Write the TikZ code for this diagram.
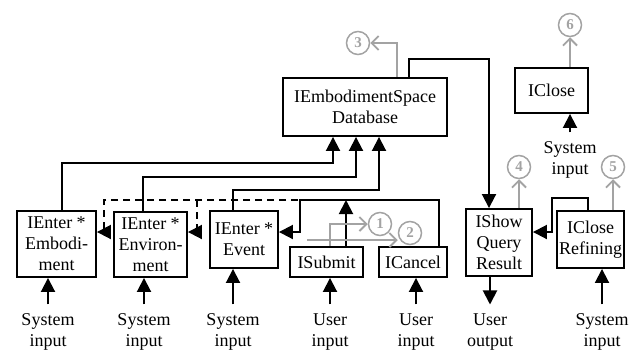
\documentclass[tikz,border=0pt]{standalone}
\usepackage{fontspec}
\setmainfont{Liberation Serif}
\usetikzlibrary{arrows.meta}

\definecolor{flowgray}{RGB}{163,163,163}
\newcommand{\boxfont}{\fontsize{18}{21}\selectfont}

\begin{document}
\begin{tikzpicture}[x=1pt, y=-1pt,
  box/.style={draw, line width=1.9pt, align=center, inner sep=2pt, font=\boxfont},
  io/.style={align=center, inner xsep=1pt, inner ysep=9pt, font=\boxfont},
  marker/.style={circle, draw=flowgray, line width=1.5pt, text=flowgray, minimum size=23pt, inner sep=0pt, font=\fontsize{15}{15}\selectfont\bfseries},
  link/.style={line width=1.9pt},
  opt/.style={line width=1.9pt, dash pattern=on 7pt off 5pt},
  gray link/.style={draw=flowgray, line width=1.9pt, -{Straight Barb[length=7pt,width=14pt]}},
  >={Triangle[length=14pt,width=14pt]}
]
  \useasboundingbox (0,0) rectangle (634,354);
  \node[box, minimum width=79pt, minimum height=66pt] (emb) at (56.5,244) {IEnter *\\Embodi-\\ment};
  \node[box, minimum width=73pt, minimum height=65pt] (env) at (150.5,244.5) {IEnter *\\Environ-\\ment};
  \node[box, minimum width=68pt, minimum height=57pt] (evt) at (244,239.5) {IEnter *\\Event};
  \node[box, minimum width=73pt, minimum height=30pt] (sub) at (326.5,262) {ISubmit};
  \node[box, minimum width=68pt, minimum height=30pt] (can) at (413,262) {ICancel};
  \node[box, minimum width=164pt, minimum height=58pt] (db) at (365,107) {IEmbodimentSpace\\Database};
  \node[box, minimum width=66pt, minimum height=67pt] (show) at (499,242.5) {IShow\\Query\\Result};
  \node[box, minimum width=67pt, minimum height=57pt] (ref) at (590.5,239.5) {IClose\\Refining};
  \node[box, minimum width=73pt, minimum height=45pt] (close) at (551.5,90.5) {IClose};

  \node[io] (embin) at (48,332) {System\\input};
  \node[io] (envin) at (144,332) {System\\input};
  \node[io] (evtin) at (233,332) {System\\input};
  \node[io] (subin) at (330,332) {User\\input};
  \node[io] (canin) at (416,332) {User\\input};
  \node[io] (showout) at (490,332) {User\\output};
  \node[io] (refin) at (602,332) {System\\input};
  \node[io] (closein) at (570,160) {System\\input};

  \node[marker] (m1) at (380,224) {1};
  \node[marker] (m2) at (410,233) {2};
  \node[marker] (m3) at (358,43) {3};
  \node[marker] (m4) at (519,167) {4};
  \node[marker] (m5) at (613,167) {5};
  \node[marker] (m6) at (570,25) {6};

  % inputs and output
  \draw[link, ->] (embin.north) -- (embin.north |- emb.south);
  \draw[link, ->] (envin.north) -- (envin.north |- env.south);
  \draw[link, ->] (evtin.north) -- (evtin.north |- evt.south);
  \draw[link, ->] (subin.north) -- (subin.north |- sub.south);
  \draw[link, ->] (canin.north) -- (canin.north |- can.south);
  \draw[link, ->] (refin.north) -- (refin.north |- ref.south);
  \draw[link, ->] (closein.north) -- (closein.north |- close.south);
  \draw[link, ->] (showout.north |- show.south) -- (showout.north);

  % into the database
  \draw[link, ->] ([xshift=5.5pt]emb.north) |- (333,163) -- ([xshift=-32pt]db.south);
  \draw[link, ->] ([xshift=-7.5pt]env.north) |- (356,177) -- ([xshift=-9pt]db.south);
  \draw[link, ->] ([xshift=-11pt]evt.north) |- (379,190) -- ([xshift=14pt]db.south);
  \draw[link, ->] ([xshift=44pt]db.north) -- ++(0,-18) -| ([xshift=-10pt]show.north);

  % submit and cancel
  \coordinate (split) at (346,200);
  \coordinate (branch) at (197,200);
  \draw[link, ->] ([xshift=26pt]can.north) |- (300,200) |- ([yshift=7.5pt]evt.east);
  \draw[link, ->] ([xshift=19.5pt]sub.north) -- (split);
  \draw[opt, ->] (split) -| (104,232) -- ([yshift=12pt]emb.east);
  \draw[opt, ->] (branch) |- ([yshift=12.5pt]env.east);
  \draw[link, ->] ([xshift=-2.5pt]ref.north) -- ++(0,-12) -| (552,232) -- ([yshift=10.5pt]show.east);

  % numbered exits
  \coordinate (g2) at (307,240);
  \draw[gray link] ([xshift=3.5pt]sub.north) |- (m1);
  \draw[gray link] (g2) -- (g2 -| m2.west);
  \draw[gray link] ([xshift=32pt]db.north) |- (m3);
  \draw[gray link] ([xshift=20pt]show.north) -- (m4);
  \draw[gray link] ([xshift=22.5pt]ref.north) -- (m5);
  \draw[gray link] ([xshift=18.5pt]close.north) -- (m6);
\end{tikzpicture}
\end{document}
